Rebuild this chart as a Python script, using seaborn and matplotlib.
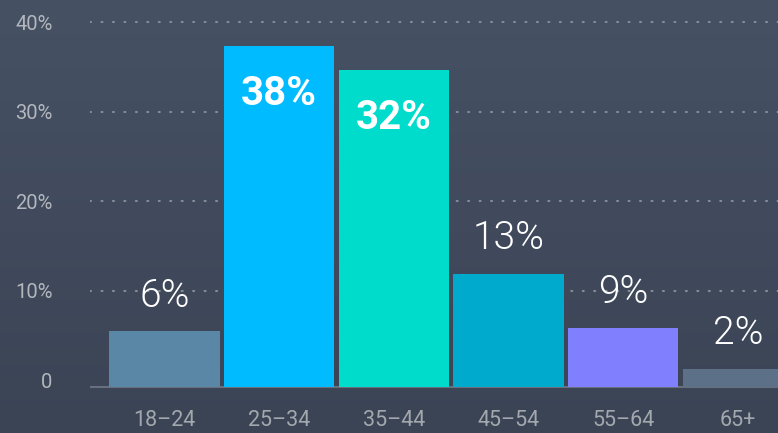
import matplotlib
matplotlib.use("Agg")
import matplotlib.pyplot as plt
import seaborn as sns
import pandas as pd
import numpy as np
from matplotlib.colors import LinearSegmentedColormap

categories = ["18–24", "25–34", "35–44", "45–54", "55–64", "65+"]
bar_values = [5.5, 37.4, 34.7, 11.9, 5.9, 1.3]
value_labels = ["6%", "38%", "32%", "13%", "9%", "2%"]
label_inside = [False, True, True, False, False, False]
colors = ["#5a87a6", "#00bbff", "#00dccb", "#00aacc", "#8080ff", "#5c7088"]
yticks = [0, 10, 20, 30, 40]
ytick_labels = ["0", "10%", "20%", "30%", "40%"]

sns.set_theme(style="white")
plt.rcParams["font.family"] = ["Roboto", "DejaVu Sans"]

BG = "#404a5b"
fig = plt.figure(figsize=(7.78, 4.33), dpi=100, facecolor=BG)

# subtle chalkboard-like background gradient (lighter at top)
bg = fig.add_axes([0, 0, 1, 1], zorder=0)
grad = np.linspace(0, 1, 256)
img = np.outer(grad, np.ones(2))
cmap = LinearSegmentedColormap.from_list("bg", ["#3b4455", "#465164"])
bg.imshow(img, aspect="auto", cmap=cmap, extent=[0, 1, 0, 1], origin="lower")
bg.axis("off")

ax = fig.add_axes([90 / 778, (433 - 395) / 433, 1 - 90 / 778, 395 / 433], zorder=1)
ax.set_facecolor("none")

df = pd.DataFrame({"age": categories, "value": bar_values})
sns.barplot(data=df, x="age", y="value", hue="age", palette=colors,
            legend=False, width=0.96, ax=ax, saturation=1, edgecolor="none")

BASE = -0.73
for p in ax.patches:
    h = p.get_height()
    p.set_y(BASE)
    p.set_height(h - BASE)

ax.set_xlim(-0.65, 5.35)
ax.set_ylim(-1.62, 42.51)

for y in yticks[1:]:
    ax.axhline(y, color="#838c99", lw=1.5, ls=(0, (0.5, 5.0)),
               dash_capstyle="round", zorder=0.5)
ax.axhline(BASE, color="#687080", lw=1.5, zorder=0.6)

for i, (v, lab, inside) in enumerate(zip(bar_values, value_labels, label_inside)):
    if inside:
        ax.annotate(lab, (i, v), xytext=(0, -34.5), textcoords="offset points",
                    ha="center", va="center", color="white", fontsize=29,
                    fontweight="bold", zorder=5)
    else:
        ax.annotate(lab, (i, v), xytext=(0, 12), textcoords="offset points",
                    ha="center", va="bottom", color="white", fontsize=28,
                    fontweight=300, zorder=5)

ax.set_yticks(yticks)
ax.set_yticklabels(ytick_labels)
ax.tick_params(axis="y", length=0, pad=27, labelsize=14.5, labelcolor="#b3b7bd")
ax.tick_params(axis="x", length=0, pad=11, labelsize=15.5, labelcolor="#a3a8ae")
ax.set_xlabel("")
ax.set_ylabel("")
for s in ax.spines.values():
    s.set_visible(False)
ax.grid(False)

fig.savefig("out.png", dpi=100, facecolor=BG)
